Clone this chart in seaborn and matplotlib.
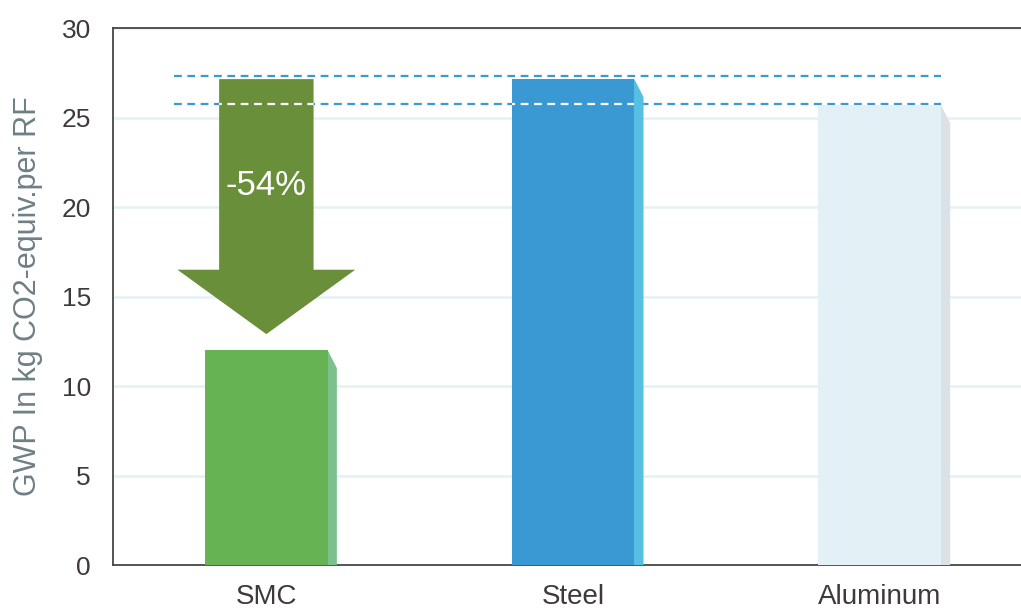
import matplotlib
matplotlib.use('Agg')
import matplotlib.pyplot as plt
import pandas as pd
import seaborn as sns
from matplotlib.patches import Polygon

# data
materials = ['SMC', 'Steel', 'Aluminum']
gwp = [12.0, 27.15, 25.7]
front_colors = ['#66B354', '#3A98D3', '#E3F0F5']
side_colors = ['#7BC08D', '#55C0E2', '#DCE1E7']
ref_lines = [27.3, 25.75]
reduction_label = '-54%'
y_ticks = [0, 5, 10, 15, 20, 25, 30]

sns.set_theme(style='white')
plt.rcParams['font.family'] = ['Liberation Sans', 'DejaVu Sans']

df = pd.DataFrame({'material': materials, 'gwp': gwp})

fig = plt.figure(figsize=(10.21, 6.15), dpi=100)
ax = fig.add_axes([0.1107, 0.0813, 0.901, 0.873])

sns.barplot(data=df, x='material', y='gwp', hue='material', palette=front_colors,
            width=0.4, saturation=1, legend=False, ax=ax, zorder=3, linewidth=0)

# side faces of the bars (pseudo 3d)
side_w = 0.03
side_drop = 1.0
for bar, col in zip(ax.patches, side_colors):
    x1 = bar.get_x() + bar.get_width()
    h = bar.get_height()
    ax.add_patch(Polygon([(x1 - 0.01, 0), (x1 - 0.01, h), (x1, h), (x1 + side_w, h - side_drop),
                          (x1 + side_w, 0)], closed=True, facecolor=col, edgecolor='none',
                         linewidth=0, zorder=2.9))

# reference dashed lines: blue in the open, white over the bars
x_start, x_end = -0.3, 2.2
for yv in ref_lines:
    ax.plot([x_start, x_end], [yv, yv], color='#3A98D3', lw=1.6, ls=(0, (3.5, 2.5)), zorder=2.5)

# arrow showing the reduction
top = gwp[1]
head_base = 16.5
tip = 12.9
shaft = 0.154
head = 0.29
arrow = Polygon([(-shaft, top), (shaft, top), (shaft, head_base), (head, head_base),
                 (0, tip), (-head, head_base), (-shaft, head_base)],
                closed=True, facecolor='#6A8F3A', edgecolor='none', linewidth=0, zorder=4)
ax.add_patch(arrow)

for yv in ref_lines:
    for clip in [arrow, ax.patches[1]]:
        ln, = ax.plot([x_start, x_end], [yv, yv], color='white', lw=1.6, ls=(0, (3.5, 2.5)), zorder=5)
        ln.set_clip_path(clip)

ax.text(0, 21.2, reduction_label, color='white', fontsize=25, ha='center', va='center', zorder=6)

ax.set_xlim(-0.5, 2.5)
ax.set_ylim(0, 30)
ax.set_yticks(y_ticks)
ax.yaxis.grid(True, color='#E4F1F5', lw=1.8)
ax.set_axisbelow(True)

ax.set_xlabel('')
ax.set_ylabel('GWP In kg CO2-equiv.per RF', fontsize=22, color='#6E7F85', labelpad=13)
ax.tick_params(axis='y', length=8, width=1.8, color='#E4F1F5', labelsize=19,
               labelcolor='#3F3A3A', pad=8)
ax.tick_params(axis='x', which='major', length=0, labelsize=20, labelcolor='#3F3A3A', pad=14)
ax.set_xticks([0.5, 1.5], minor=True)
ax.tick_params(axis='x', which='minor', length=8, width=1.2, color='#E4F1F5', direction='out')

for side in ['left', 'top', 'bottom', 'right']:
    ax.spines[side].set_color('#4A4545')
    ax.spines[side].set_linewidth(1.3)

fig.savefig('out.png', dpi=100)
